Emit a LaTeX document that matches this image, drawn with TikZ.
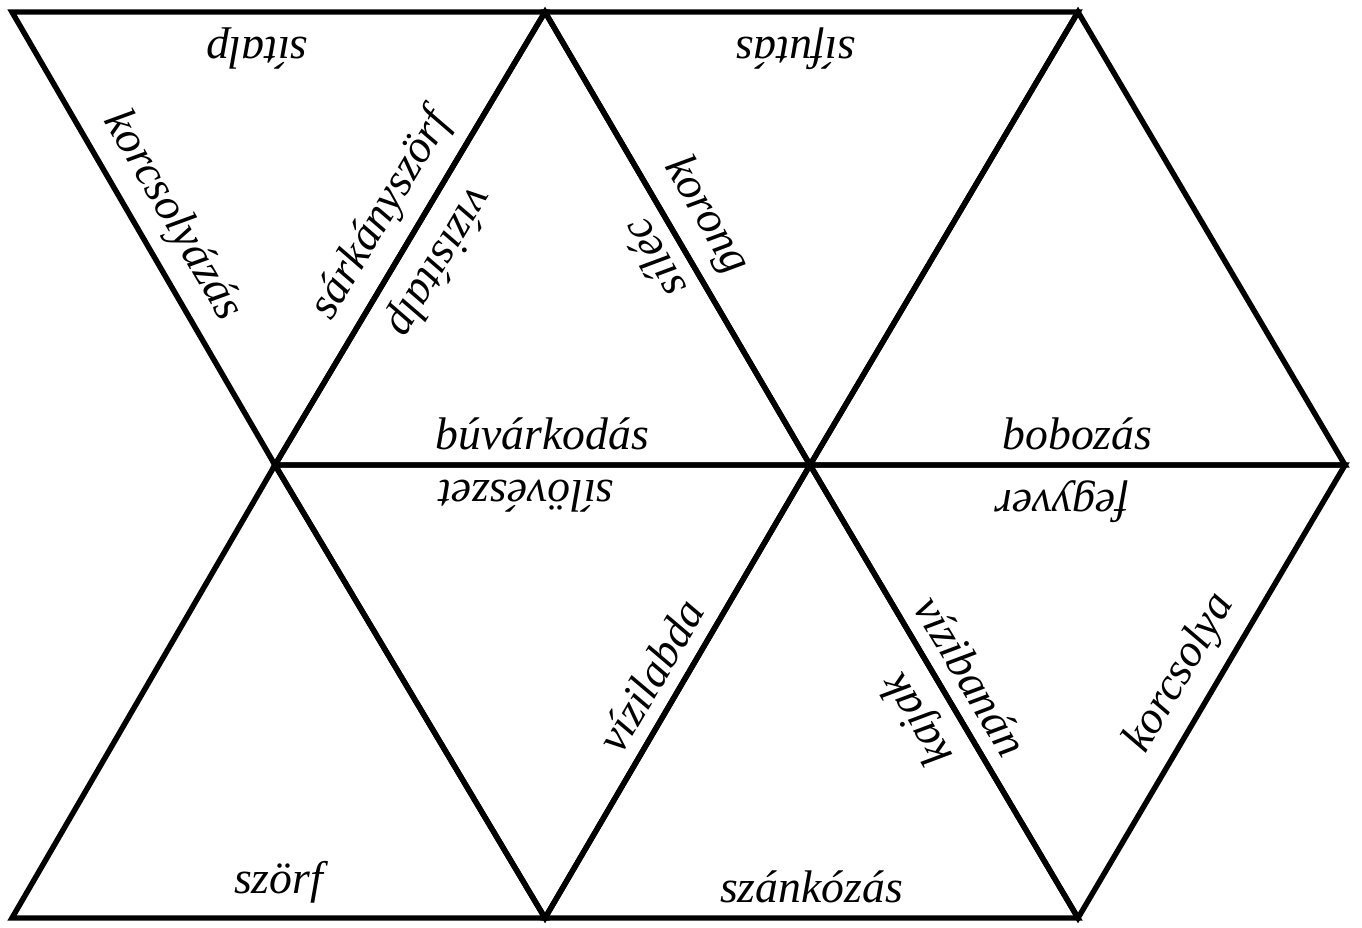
\documentclass[tikz,border=0pt]{standalone}
\usepackage{fontspec}
\setmainfont{Liberation Serif}

\begin{document}
\begin{tikzpicture}[
    x=0.02cm, y=-0.02cm,
    tri/.style={draw=black, line width=3.1pt, line join=miter},
    lbl/.style={sloped, allow upside down, anchor=south, inner sep=8.5pt, font=\fontsize{26}{31}\selectfont\itshape}
]
    \useasboundingbox (0,0) rectangle (1362,927);
    % corner points of the strip
    \coordinate (A1) at (12,12);
    \coordinate (A2) at (545,12);
    \coordinate (A3) at (1078,12);
    \coordinate (B1) at (275,465);
    \coordinate (B2) at (810,465);
    \coordinate (B3) at (1345,465);
    \coordinate (C1) at (12,918);
    \coordinate (C2) at (545,918);
    \coordinate (C3) at (1078,918);

    % the eight triangles
    \draw[tri] (A1) -- (A2) -- (B1) -- cycle;
    \draw[tri] (B1) -- (B2) -- (A2) -- cycle;
    \draw[tri] (A2) -- (A3) -- (B2) -- cycle;
    \draw[tri] (B2) -- (B3) -- (A3) -- cycle;
    \draw[tri] (C1) -- (C2) -- (B1) -- cycle;
    \draw[tri] (B1) -- (B2) -- (C2) -- cycle;
    \draw[tri] (C2) -- (C3) -- (B2) -- cycle;
    \draw[tri] (B2) -- (B3) -- (C3) -- cycle;

    % words, each edge taken counterclockwise inside its triangle
    \path (A1) -- (B1) node[lbl, pos=0.49] (korcsolyazas) {korcsolyázás};
    \path (B1) -- (A2) node[lbl, pos=0.51] (sarkanyszorf) {sárkányszörf};
    \path (A2) -- (A1) node[lbl, pos=0.54] (sitalp) {sítalp};
    \path (B1) -- (B2) node[lbl, pos=0.5] (buvarkodas) {búvárkodás};
    \path (B2) -- (A2) node[lbl, pos=0.49] (silec) {síléc};
    \path (A2) -- (B1) node[lbl, pos=0.51] (vizisitalp) {vízisítalp};
    \path (A2) -- (B2) node[lbl, pos=0.49] (korong) {korong};
    \path (A3) -- (A2) node[lbl, pos=0.53] (sifutas) {sífutás};
    \path (B2) -- (B3) node[lbl, pos=0.5] (bobozas) {bobozás};
    \path (C1) -- (C2) node[lbl, pos=0.5] (szorf) {szörf};
    \path (B2) -- (B1) node[lbl, pos=0.53] (siloveszet) {sílövészet};
    \path (C2) -- (B2) node[lbl, pos=0.5] (vizilabda) {vízilabda};
    \path (C2) -- (C3) node[lbl, pos=0.5] (szankozas) {szánkózás};
    \path (C3) -- (B2) node[lbl, pos=0.48] (kajak) {kajak};
    \path (B2) -- (C3) node[lbl, pos=0.5] (vizibanan) {vízibanán};
    \path (C3) -- (B3) node[lbl, pos=0.5] (korcsolya) {korcsolya};
    \path (B3) -- (B2) node[lbl, pos=0.53] (fegyver) {fegyver};
\end{tikzpicture}
\end{document}
